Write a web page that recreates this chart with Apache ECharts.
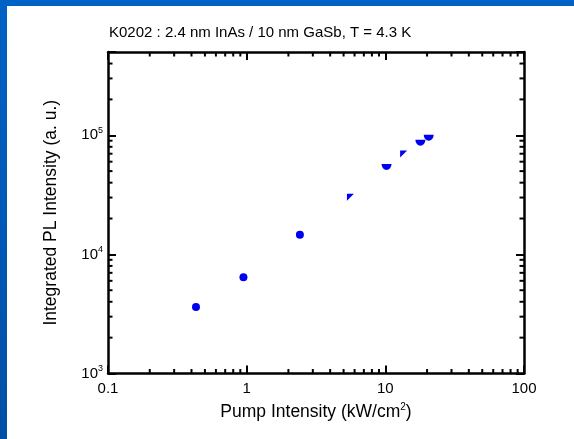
<!DOCTYPE html>
<html><head><meta charset="utf-8">
<script src="https://cdn.jsdelivr.net/npm/echarts@6/dist/echarts.min.js"></script>
<style>html,body{margin:0;padding:0;background:#fff}#c{width:574px;height:439px}</style>
</head><body><div id="c"></div>
<script>
// data
var pumpIntensity = [0.431, 0.948, 2.42, 5.60, 10.2, 13.55, 17.9, 20.55];
var plIntensity   = [3620, 6430, 14580, 30100, 54200, 69500, 86500, 95500];
var markerShape   = ['circle','circle','circle','tri','half','tri','half','half'];
var xMinorTicks = [0.2,0.3,0.4,0.5,0.6,0.7,0.8,0.9,2,3,4,5,6,7,8,9,20,30,40,50,60,70,80,90];
var yMinorTicks = [2000,3000,4000,5000,6000,7000,8000,9000,20000,30000,40000,50000,60000,70000,80000,90000,200000,300000,400000];
var xRange = [0.1, 100];
var yRange = [1000, 500000];
var titleText = 'K0202 : 2.4 nm InAs / 10 nm GaSb, T = 4.3 K';
var xName = 'Pump Intensity (kW/cm{sup|2})';
var yName = 'Integrated PL Intensity (a. u.)';

var FONT = 'Liberation Sans, Arial, sans-serif';
var BLUE = '#0000f0';
var shapes = {
  circle: {symbol: 'circle', symbolSize: 8},
  tri: {symbol: 'path://M0,0 L7,0 L0,7 Z', symbolSize: [7, 7]},
  half: {symbol: 'path://M0,0 L10,0 A5,5 0 0 1 0,0 Z', symbolSize: [10, 6]}
};
var scatterData = pumpIntensity.map(function (x, i) {
  var s = shapes[markerShape[i]];
  return {value: [x, plIntensity[i]], symbol: s.symbol, symbolSize: s.symbolSize};
});
function isPow(v) { var l = Math.log10(v); return Math.abs(l - Math.round(l)) < 1e-6; }
var tickData = xMinorTicks.map(function (v) { return [v, 0]; })
  .concat(yMinorTicks.map(function (v) { return [v, 1]; }));

var axisLine = {show: true, lineStyle: {color: '#000', width: 2.5}};
var majorTick = {show: true, inside: true, length: 8, lineStyle: {color: '#000', width: 2}};

var chart = echarts.init(document.getElementById('c'), null, {renderer: 'canvas'});
chart.setOption({
  animation: false,
  backgroundColor: '#fff',
  title: {text: titleText, left: 104, top: 20,
    textStyle: {fontFamily: FONT, fontSize: 15, fontWeight: 'normal', color: '#000'}},
  graphic: [
    {type: 'rect', shape: {x: 0, y: 0, width: 574, height: 6}, style: {fill: '#0062c4'}, z: 100},
    {type: 'rect', shape: {x: 0, y: 0, width: 7, height: 439},
      style: {fill: new echarts.graphic.LinearGradient(0, 0, 0, 1, [{offset: 0, color: '#0062c4'}, {offset: 1, color: '#004fa6'}])}, z: 100}
  ],
  grid: {left: 108, top: 52, width: 416, height: 321.5},
  xAxis: [
    {type: 'log', logBase: 10, min: xRange[0], max: xRange[1], position: 'bottom',
      axisLine: axisLine, axisTick: majorTick, splitLine: {show: false},
      axisLabel: {margin: 8, fontFamily: FONT, fontSize: 15, color: '#000',
        formatter: function (v) { return isPow(v) ? String(+v.toPrecision(6)) : ''; }},
      name: xName, nameLocation: 'middle', nameGap: 29,
      nameTextStyle: {fontFamily: FONT, fontSize: 17.5, color: '#000',
        rich: {sup: {fontSize: 10, verticalAlign: 'top', padding: [0, 0, 9, 0], fontFamily: FONT}}}},
    {type: 'log', logBase: 10, min: xRange[0], max: xRange[1], position: 'top',
      axisLine: axisLine, axisTick: majorTick, axisLabel: {show: false}, splitLine: {show: false}}
  ],
  yAxis: [
    {type: 'log', logBase: 10, min: yRange[0], max: yRange[1], position: 'left',
      axisLine: axisLine, axisTick: majorTick, splitLine: {show: false},
      axisLabel: {margin: 5, fontFamily: FONT, fontSize: 15, color: '#000',
        formatter: function (v) { return isPow(v) ? '10{s|' + Math.round(Math.log10(v)) + '}' : ''; },
        rich: {s: {fontSize: 9, padding: [0, 0, 9, 0], fontFamily: FONT, color: '#000'}}},
      name: yName, nameLocation: 'middle', nameGap: 48,
      nameTextStyle: {fontFamily: FONT, fontSize: 17.5, color: '#000'}},
    {type: 'log', logBase: 10, min: yRange[0], max: yRange[1], position: 'right',
      axisLine: axisLine, axisTick: majorTick, axisLabel: {show: false}, splitLine: {show: false}}
  ],
  series: [
    {type: 'scatter', xAxisIndex: 0, yAxisIndex: 0, data: scatterData,
      itemStyle: {color: BLUE, opacity: 1}, z: 5},
    {type: 'custom', xAxisIndex: 0, yAxisIndex: 0, data: tickData, clip: false, silent: true, z: 6,
      renderItem: function (params, api) {
        var v = api.value(0), kind = api.value(1);
        var lo = api.coord([xRange[0], yRange[0]]);
        var hi = api.coord([xRange[1], yRange[1]]);
        var L = 4.5, st = {stroke: '#000', lineWidth: 2};
        if (kind === 0) {
          var px = api.coord([v, yRange[0]])[0];
          return {type: 'group', children: [
            {type: 'line', shape: {x1: px, y1: lo[1], x2: px, y2: lo[1] - L}, style: st},
            {type: 'line', shape: {x1: px, y1: hi[1], x2: px, y2: hi[1] + L}, style: st}]};
        } else {
          var py = api.coord([xRange[0], v])[1];
          return {type: 'group', children: [
            {type: 'line', shape: {x1: lo[0], y1: py, x2: lo[0] + L, y2: py}, style: st},
            {type: 'line', shape: {x1: hi[0], y1: py, x2: hi[0] - L, y2: py}, style: st}]};
        }
      }}
  ]
});
</script></body></html>
